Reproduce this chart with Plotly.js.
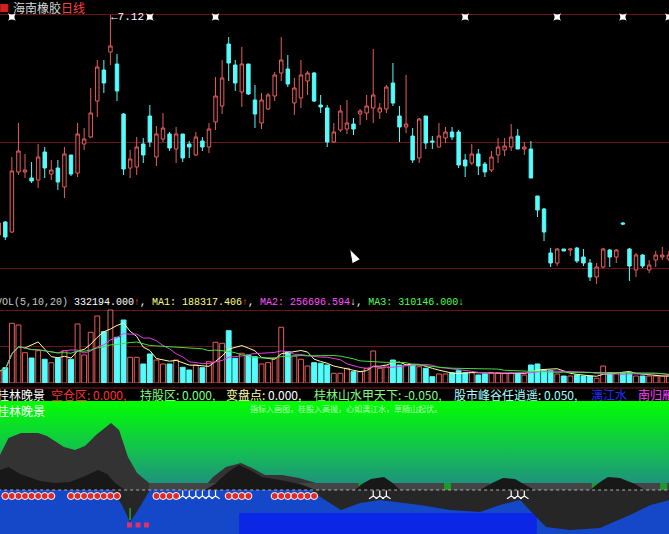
<!DOCTYPE html>
<html><head><meta charset="utf-8">
<script src="https://cdn.plot.ly/plotly-3.0.1.min.js"></script>
<style>html,body{margin:0;padding:0;background:#000;overflow:hidden}#chart{width:669px;height:534px}</style>
</head><body><div id="chart"></div>
<script>
// ---- price candles (index -1 .. 101) ----
const opens  = [4.92,5.05,4.95,5.55,5.55,5.49,5.47,5.75,5.53,5.59,5.40,5.72,5.54,5.83,5.90,6.26,6.57,6.75,6.63,6.13,5.59,5.60,5.83,6.11,5.70,5.88,5.93,5.78,5.93,5.83,5.72,5.86,5.80,6.05,6.21,6.83,6.62,6.35,6.63,6.27,6.04,6.18,6.31,6.54,6.58,6.24,6.29,6.46,6.54,6.22,6.19,5.85,5.97,5.98,6.03,6.13,6.14,6.19,6.15,6.18,6.44,6.11,6.00,5.91,5.69,6.11,5.86,5.80,5.89,5.95,5.95,5.67,5.64,5.73,5.63,5.57,5.72,5.77,5.80,5.91,5.78,5.78,5.31,5.18,4.74,4.64,4.78,4.77,4.79,4.70,4.64,4.50,4.60,4.77,4.70,5.04,4.78,4.57,4.72,4.57,4.67,4.70,4.68];
const highs  = [5.04,5.06,5.70,6.04,5.73,5.65,5.83,5.80,5.67,5.67,5.80,5.72,6.04,5.99,6.39,6.67,6.67,7.12,6.73,6.14,5.77,5.90,5.89,6.22,6.01,6.14,5.95,6.00,5.93,5.86,5.95,5.90,6.04,6.50,6.67,6.90,6.67,6.80,6.63,6.42,6.34,6.34,6.55,6.90,6.72,6.49,6.67,6.56,6.55,6.32,6.22,6.04,6.22,6.27,6.09,6.18,6.32,6.78,6.24,6.42,6.64,6.21,6.52,5.99,6.09,6.11,5.91,6.04,6.00,6.00,5.97,5.73,5.83,5.78,5.65,5.76,5.89,5.89,6.03,5.98,5.85,5.86,5.31,5.19,4.79,4.79,4.78,4.78,4.80,4.78,4.68,4.64,4.79,4.78,4.78,5.05,4.79,4.74,4.73,4.67,4.76,4.80,4.76];
const lows   = [4.92,4.87,4.94,5.52,5.49,5.44,5.39,5.49,5.47,5.37,5.29,5.51,5.50,5.77,5.89,6.10,6.34,6.62,6.26,5.52,5.49,5.52,5.64,5.80,5.61,5.85,5.76,5.64,5.65,5.69,5.71,5.76,5.74,5.97,6.13,6.46,6.36,6.20,6.32,5.99,5.98,6.17,6.26,6.46,6.40,6.12,6.19,6.32,6.25,6.14,5.80,5.84,5.95,5.93,5.92,6.02,6.07,6.04,6.08,6.14,6.21,5.85,5.94,5.64,5.64,5.78,5.78,5.80,5.84,5.87,5.59,5.50,5.62,5.52,5.50,5.55,5.64,5.71,5.76,5.78,5.72,5.49,5.10,4.86,4.60,4.61,4.76,4.71,4.64,4.61,4.46,4.43,4.59,4.60,4.64,5.02,4.46,4.50,4.59,4.54,4.60,4.67,4.66];
const closes = [5.04,4.90,5.56,5.76,5.57,5.46,5.70,5.59,5.57,5.45,5.73,5.53,5.93,5.88,6.14,6.60,6.44,6.81,6.36,5.58,5.68,5.80,5.72,5.85,5.93,5.99,5.79,5.93,5.69,5.80,5.90,5.80,5.98,6.31,6.49,6.64,6.44,6.63,6.33,6.13,6.27,6.32,6.52,6.67,6.43,6.39,6.52,6.54,6.26,6.20,5.85,5.95,6.16,6.04,5.98,6.16,6.21,6.32,6.19,6.40,6.24,6.00,6.03,5.67,6.08,5.84,5.85,5.91,5.95,5.90,5.62,5.61,5.73,5.61,5.55,5.70,5.80,5.81,5.90,5.78,5.80,5.49,5.17,4.95,4.64,4.78,4.76,4.78,4.66,4.64,4.50,4.60,4.78,4.70,4.77,5.03,4.61,4.72,4.61,4.62,4.72,4.72,4.72];
// ---- volume (thousand shares) ----
const volumes = [540,689,2687,2610,1364,1125,1454,1067,914,1112,1454,1067,2655,1260,2282,3015,2309,3285,2057,2835,1157,1157,855,1305,1035,855,855,1035,707,585,810,689,959,1832,1787,2354,1112,1337,1260,1184,855,914,1112,2507,1409,1215,1067,765,914,887,810,437,437,662,509,509,662,1440,662,765,1035,810,810,810,734,662,284,405,405,464,554,464,464,360,405,464,464,437,437,437,360,810,855,585,554,405,315,315,360,315,315,212,765,464,437,464,464,315,315,315,315,315,315];
// ---- top-row markers (bar indices) ----
const markIdx = [1,22,32,70,84,94,101];
// ---- bottom indicator "landscape" ----
const mtnX   = [-0.81,0.49,2.39,4.98,6.35,8.93,10.61,12.13,13.81,16.09,17.31,18.67,20.05,21.87,25.22,30.40,31.61,33.59,35.87,37.55,39.53,42.12,44.70,47.29,101.2];
const mtnY   = [0.35,0.52,0.57,0.57,0.54,0.43,0.40,0.44,0.55,0.67,0.60,0.33,0.17,0.07,0.03,0.04,0.13,0.23,0.27,0.22,0.15,0.15,0.12,0.07,0.07];
const groundX = [21.87,101.2];
const groundY = [0.07,0.07];
const innerX = [-0.81,0.49,2.24,5.28,7.56,9.85,12.13,14.11,15.48,16.70,18.22,30.40,31.92,33.90,35.57,37.24,39.07,41.81,44.85,47.29,53.23,54.29,55.66,57.64,59.16,60.08,72.25,74.08,75.75,77.58,79.41,80.62,89.0,90.52,91.73,93.56,95.84,97.37];
const innerY = [0.20,0.23,0.16,0.09,0.07,0.08,0.14,0.20,0.16,0.07,0,0,0.06,0.18,0.25,0.20,0.13,0.10,0.06,0,0,0.06,0.11,0.13,0.06,0,0,0.07,0.12,0.11,0.04,0,0,0.08,0.13,0.12,0.06,0];
const grassIdx = [54.3,67.3,74.2,89.8,100.2];
const reflX  = [16.26,17.76,18.99,20.2,22.02,46.4,48.66,51.1,53.99,57.03,63.12,67.69,72.25,75.3,78.34,82.3,85.95,90.52,95.08,98.2,101.2];
const reflY  = [0,-0.15,-0.32,-0.20,0,0,-0.10,-0.20,-0.13,-0.10,-0.15,-0.20,-0.22,-0.15,-0.10,-0.37,-0.40,-0.38,-0.25,-0.15,-0.10];
const dotIdx = [0,1,2,3,4,5,6,7,10,11,12,13,14,15,16,17,23,24,25,26,34,35,36,37,41,42,43,44,45,46,47];
const arrowIdx = [27,28,29,30,31,32,56,57,58,77,78,79];
const pinkIdx = [18.9,20.2,21.5];

const barIndex = opens.map((_, k) => k - 1);
const W = 669, H = 534;
const px = x => x / W, py = y => 1 - y / H;
const RED = '#e85c5c', CYAN = '#54fcfc';

function ma(arr, n) {
  return arr.map((_, k) => { const s = arr.slice(Math.max(0, k - n + 1), k + 1); return s.reduce((a, b) => a + b, 0) / s.length; });
}
const up = opens.map((o, k) => closes[k] >= o);
const S = {xaxis:'x', yaxis:'y3', hoverinfo:'skip'};

const traces = [
  // bottom panel background
  Object.assign({x:[-2,103], y:[-0.6,-0.6], mode:'none', fill:'tozeroy', fillcolor:'#1448c8'}, S),
  Object.assign({x:[35.6,80.9,80.9,35.6], y:[-0.23,-0.23,-0.6,-0.6], mode:'none', fill:'toself', fillcolor:'#0c26e6'}, S),
  Object.assign({x:[-2,103], y:[0.89,0.89], mode:'none', fill:'tozeroy',
   fillgradient:{type:'vertical', start:0, stop:0.89, colorscale:[[0,'#1f8a86'],[0.45,'#14c050'],[1,'#00ff00']]}}, S),
  Object.assign({x:mtnX, y:mtnY, mode:'none', fill:'tozeroy', fillcolor:'#333333'}, S),
  Object.assign({x:groundX, y:groundY, mode:'none', fill:'tozeroy', fillcolor:'#444444'}, S),
  Object.assign({x:grassIdx, y:grassIdx.map(() => 0.035), mode:'markers', marker:{symbol:'square', size:7, color:'#1e9a28'}}, S),
  Object.assign({x:innerX, y:innerY, mode:'none', fill:'tozeroy', fillcolor:'#181818'}, S),
  Object.assign({x:reflX, y:reflY, mode:'none', fill:'tozeroy', fillcolor:'#262626'}, S),
  Object.assign({x:[18.99,18.99], y:[-0.18,-0.30], mode:'lines', line:{color:'#30e030', width:1}}, S),
  Object.assign({x:pinkIdx, y:pinkIdx.map(() => -0.35), mode:'markers', marker:{symbol:'square', size:5, color:'#e0306a'}}, S),
  Object.assign({x:[-2,103], y:[0,0], mode:'lines', line:{color:'#b0b0b0', width:1, dash:'dot'}}, S),
  Object.assign({x:dotIdx, y:dotIdx.map(() => -0.06), mode:'markers', marker:{symbol:'circle', size:7, color:'#e02828', line:{color:'#ffffff', width:1}}}, S),
  Object.assign({x:arrowIdx, y:arrowIdx.map(() => -0.06), mode:'markers', marker:{symbol:'y-up-open', size:7, color:'#ffffff', line:{color:'#ffffff', width:1.2}}}, S),
  // price candles
  {type:'candlestick', x:barIndex, open:opens, high:highs, low:lows, close:closes, xaxis:'x', yaxis:'y',
   increasing:{line:{color:RED, width:1}, fillcolor:'#000000'},
   decreasing:{line:{color:CYAN, width:1}, fillcolor:CYAN}, whiskerwidth:0, hoverinfo:'skip'},
  {x:markIdx, y:markIdx.map(() => 7.10), xaxis:'x', yaxis:'y', mode:'markers', marker:{symbol:'star-square', size:7, color:'#ffffff'}, hoverinfo:'skip'},
  // mouse pointer seen in the screenshot
  {x:[52.4], y:[4.78], xaxis:'x', yaxis:'y', mode:'markers', marker:{symbol:'arrow', size:15, angle:-28, color:'#ffffff', line:{color:'#000000', width:1}}, hoverinfo:'skip'},
  // volume
  {type:'bar', x:barIndex, y:volumes, xaxis:'x', yaxis:'y2', width:0.74,
   marker:{color:up.map(u => u ? '#000000' : CYAN), line:{color:up.map(u => u ? RED : CYAN), width:1}}, hoverinfo:'skip'},
  {x:barIndex, y:ma(volumes,5), xaxis:'x', yaxis:'y2', mode:'lines', line:{color:'#ffffa8', width:1}, hoverinfo:'skip'},
  {x:barIndex, y:ma(volumes,10), xaxis:'x', yaxis:'y2', mode:'lines', line:{color:'#e040e0', width:1}, hoverinfo:'skip'},
  {x:barIndex, y:ma(volumes,20), xaxis:'x', yaxis:'y2', mode:'lines', line:{color:'#40e040', width:1}, hoverinfo:'skip'}
];

function ann(text, x, y, color, size, family) {
  return {text:text, x:px(x), y:py(y), xref:'paper', yref:'paper', xanchor:'left', yanchor:'middle', showarrow:false,
          borderpad:0, borderwidth:0, font:{color:color, size:size, family:family || '"Noto Sans CJK SC", sans-serif'}};
}
const MONO = '"Liberation Mono", "DejaVu Sans Mono", monospace';
const annotations = [
  ann('■', -1, 7, '#d02020', 10),
  ann('海南橡胶<span style="color:#ff4040">日线</span>', 13, 7, '#d8d8d8', 12),
  ann('←7.12', 111, 17, '#ffffff', 11, MONO),
  ann('VOL(5,10,20) <span style="color:#ffffff">332194.000</span><span style="color:#ff4040">↑</span><span style="color:#ffffff">, </span><span style="color:#ffff80">MA1: 188317.406</span><span style="color:#ff4040">↑</span><span style="color:#ffffff">, </span><span style="color:#ff50ff">MA2: 256696.594</span><span style="color:#ffffff">↓, </span><span style="color:#50ff50">MA3: 310146.000↓</span>', -4, 302, '#c8c8c8', 10, MONO),
  ann('桂林晚景', -3, 394, '#ffffff', 12),
  ann('空仓区: 0.000,', 51, 394, '#ff3030', 12),
  ann('持股区: 0.000,', 140, 394, '#80ff80', 12),
  ann('变盘点: <span style="color:#ffffff">0.000,</span>', 226, 394, '#ffffb0', 12),
  ann('桂林山水甲天下: -0.050,', 314, 394, '#80ff80', 12),
  ann('股市峰谷任逍遥: 0.050,', 454, 394, '#a8ffff', 12),
  ann('漓江水', 591, 394, '#2030ff', 12),
  ann('南归雁', 638, 394, '#ff40ff', 12),
  ann('桂林晚景', -3, 410, '#ffffff', 12),
  ann('指标入画图，桂股入高抛，心如漓江水，草随山起伏。', 250, 408, '#b8ffb8', 8)
];

const layout = {
  width:W, height:H, margin:{l:0, r:0, t:0, b:0}, paper_bgcolor:'#000000', plot_bgcolor:'rgba(0,0,0,0)',
  showlegend:false, boxgap:0.25, bargap:0, dragmode:false, hovermode:false,
  xaxis:{range:[-0.807,101.02], showgrid:false, zeroline:false, showticklabels:false, ticks:'', showline:false, rangeslider:{visible:false}},
  yaxis:{domain:[py(290),1], range:[4.37,7.27], tickvals:[7.13,5.85,4.59], gridcolor:'#6a1414', gridwidth:1, showticklabels:false, ticks:'', zeroline:false, showline:false},
  yaxis2:{domain:[py(383),py(300)], range:[0,3735], tickvals:[1633.5,3253.5], gridcolor:'#6a1414', showticklabels:false, ticks:'', zeroline:false, anchor:'x'},
  yaxis3:{domain:[0,py(388)], range:[-0.44,1.02], showgrid:false, showticklabels:false, ticks:'', zeroline:false, anchor:'x'},
  shapes:[{type:'line', xref:'paper', yref:'paper', x0:0, x1:1, y0:py(388), y1:py(388), line:{color:'#801818', width:1}}],
  annotations:annotations
};
Plotly.newPlot('chart', traces, layout, {staticPlot:true, displayModeBar:false});
</script></body></html>
